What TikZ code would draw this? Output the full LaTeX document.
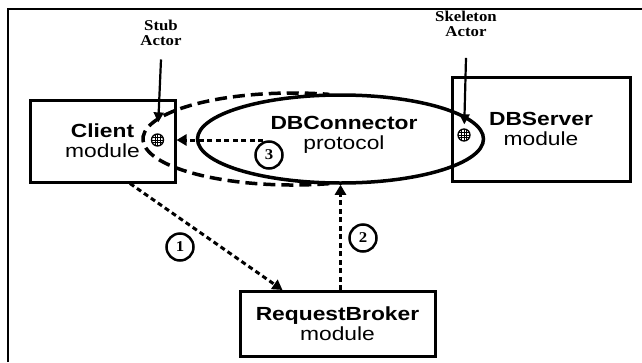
\documentclass[tikz,border=0pt]{standalone}
\usepackage{fontspec}
\setmainfont{Liberation Serif}
\newfontfamily\hv[FakeStretch=1.2]{Liberation Sans}
\newfontfamily\tm[FakeStretch=1.12]{Liberation Serif}
\usetikzlibrary{arrows.meta,shapes.geometric,calc}
\begin{document}
\begin{tikzpicture}[x=1pt,y=-1pt,
  box/.style={draw,line width=3pt,inner sep=0pt,align=center,font=\hv\fontsize{19}{20}\selectfont},
  lbl/.style={align=center,inner sep=0pt,font=\tm\bfseries\fontsize{15}{15}\selectfont},
  num/.style={circle,draw,line width=2.5pt,minimum size=27pt,inner sep=0pt,font=\tm\bfseries\fontsize{15}{15}\selectfont},
  flow/.style={line width=3pt,dash pattern=on 5pt off 3.5pt,-{Triangle[length=10pt,width=11pt]}},
  point/.style={line width=2.2pt,-{Triangle[length=10pt,width=10pt]}},
  actor/.style={circle,draw,line width=1.3pt,fill=white,minimum size=12pt,inner sep=0pt,
    path picture={\foreach \k in {-2.5,0,2.5}{
      \draw[line width=0.7pt] ($(path picture bounding box.center)+(\k,-7)$) -- ++(0,14);
      \draw[line width=0.7pt] ($(path picture bounding box.center)+(-7,\k)$) -- ++(14,0);}}},
  ]
\useasboundingbox (0,0) rectangle (642,362);
% frame
\draw[line width=2pt] (8,362) -- (8,8.5) -- (642,8.5);

% modules
\node[box,minimum width=145pt,minimum height=82pt] (client) at (102.5,141) {\textbf{Client}\\module};
\node[box,minimum width=178pt,minimum height=104pt] (server) at (541,129) {\textbf{DBServer}\\module};
\node[box,minimum width=195pt,minimum height=65pt] (rb) at (337.5,324) {\textbf{RequestBroker}\\module};

% protocol ellipse
\node[ellipse,draw,line width=3.5pt,minimum width=286pt,minimum height=88pt,inner sep=0pt] (dbc) at (340.5,139) {};
\node[align=center,inner sep=0pt,font=\hv\fontsize{19}{19.5}\selectfont] (dbctext) at (344,135) {\textbf{DBConnector}\\protocol};

% dashed ellipse
\draw[line width=3.5pt,dash pattern=on 12pt off 6pt] (293,139) ++(76:150 and 46)
  arc[start angle=76,end angle=284,x radius=150,y radius=46];

% actors
\node[actor] (stub) at (157.5,140) {};
\node[actor] (skel) at (464,135) {};
\node[lbl] (stubl) at (161,32.5) {Stub\\Actor};
\node[lbl] (skell) at (466,24) {Skeleton\\Actor};
\draw[point,shorten >=11pt] ([yshift=-14pt]stubl.south) -- (stub);
\draw[point,shorten >=4pt] ([yshift=-21pt]skell.south) -- (skel);

% flows
\coordinate (c3) at (263,140);
\draw[flow] ([xshift=27.5pt]client.south) -- ([xshift=-55pt]rb.north);
\draw[flow] (rb.north -| dbc.south) -- (dbc.south);
\draw[flow] (c3) -- (client.east |- c3);

% numbers
\node[num] (n1) at (180,247) {1};
\node[num] (n2) at (363,238) {2};
\node[num] (n3) at (269,155) {3};
\end{tikzpicture}
\end{document}
